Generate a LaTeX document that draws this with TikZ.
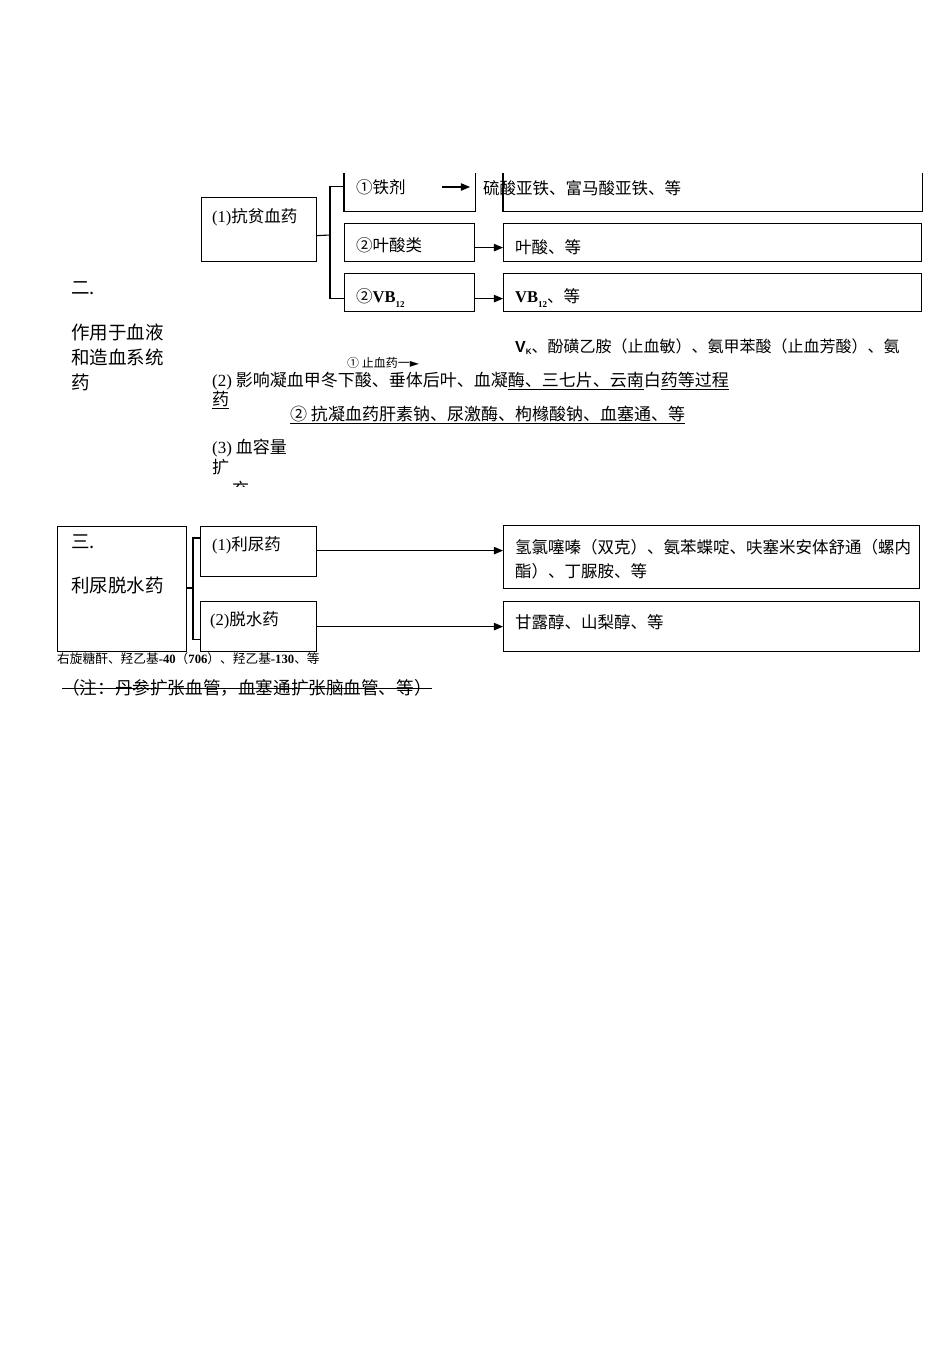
\documentclass[tikz,border=0pt]{standalone}
\usepackage{fontspec}
\setmainfont{Noto Sans CJK SC}
\newfontfamily\lat{Liberation Serif}
\newfontfamily\sans{Liberation Sans}
\newfontfamily\sym{DejaVu Sans}
\usepackage{tikz}
\usetikzlibrary{arrows}
\usetikzlibrary{positioning}
\tikzstyle{box} = [draw, line width=1.2pt, inner sep=0pt, anchor=north west]
\tikzstyle{openbox} = [box, draw=none]
\tikzstyle{txt} = [inner sep=0pt, anchor=west, font={\fontsize{16.5}{24}\selectfont}]
\tikzstyle{wide} = [txt, font={\fontsize{17}{24}\selectfont}]
\tikzstyle{head} = [txt, font={\fontsize{18.5}{25}\selectfont}]
\tikzstyle{small} = [txt, font={\fontsize{12}{14}\selectfont}]
\tikzstyle{link} = [line width=1.1pt]
\tikzstyle{arr} = [link, -triangle 45]
\newcommand{\vbtwelve}{{\lat\bfseries VB\raisebox{-5pt}{\fontsize{9}{9}\selectfont 12}}}

\begin{document}
\begin{tikzpicture}[x=1pt, y=-1pt]
            \useasboundingbox (0,0) rectangle (950,1345);
            % section two: boxes
            \node [box, minimum width=115pt, minimum height=64pt] (anemia) at (201,197) {};
            \node [openbox, minimum width=130pt, minimum height=37pt] (iron) at (344,173) {};
            \node [box, minimum width=130pt, minimum height=38pt] (folic) at (344,223) {};
            \node [box, minimum width=130pt, minimum height=38pt] (vb) at (344,273) {};
            \node [openbox, minimum width=418pt, minimum height=37pt] (ironR) at (503,173) {};
            \node [box, minimum width=418pt, minimum height=38pt] (folicR) at (503,223) {};
            \node [box, minimum width=418pt, minimum height=38pt] (vbR) at (503,273) {};
            \draw [line width=1.2pt] (iron.north west) -- (iron.south west) -- (iron.south east) -- (iron.north east);
            \draw [line width=1.2pt] (ironR.north west) -- (ironR.south west) -- (ironR.south east) -- (ironR.north east);
            \coordinate (fork1) at (330,235);
            \coordinate (ironTail) at (442,187);
            \coordinate (ironHead) at (470,187);
            \draw [link] ([yshift=-6pt]anemia.east) -- (fork1);
            \draw [link] ([yshift=5.5pt]iron.west) -| (fork1) |- ([yshift=-6pt]vb.west);
            \draw [arr] (ironTail) -- (ironHead);
            \draw [arr] ([yshift=-5pt]folic.east) -- ([yshift=-5pt]folicR.west);
            \draw [arr] ([yshift=-6pt]vb.east) -- ([yshift=-6pt]vbR.west);
            % section two: texts
            \node [head] (sec2) at (71,288) {二.};
            \node [head, align=left] (sec2T) at (71,357) {作用于血液\\和造血系统\\药};
            \node [txt] (anemiaT) at (212,217) {{\lat(1)}抗贫血药};
            \node [txt] (ironT) at (356,187) {①铁剂};
            \node [txt] (folicT) at (356,245) {②叶酸类};
            \node [txt] (vbT) at (356,298) {②\vbtwelve};
            \node [txt] (ironRT) at (483,188) {硫酸亚铁、富马酸亚铁、等};
            \node [txt] (folicRT) at (515,247) {叶酸、等};
            \node [txt] (vbRT) at (515,298) {\vbtwelve、等};
            \node [txt, font={\fontsize{16}{20}\selectfont}] (vkT) at (515,347)
                {{\sans\bfseries V\raisebox{-2pt}{\fontsize{8}{8}\selectfont K}}、酚磺乙胺（止血敏）、氨甲苯酸（止血芳酸）、氨};
            \node [small] (stopT) at (347,363) {① 止血药一{\sym ►}};
            \node [wide] (effT) at (212,381)
                {{\lat(2)} 影响凝血甲冬下酸、垂体后叶、血凝\underline{酶、三七片、云南}白\underline{药等过程}};
            \node [wide] (effT2) at (212,400) {\underline{药}};
            \node [wide] (antiT) at (290,415) {\underline{② 抗凝血药肝素钠、尿激酶、枸橼酸钠、血塞通、等}};
            \node [wide] (volT) at (212,448) {{\lat(3)} 血容量};
            \node [wide] (volT2) at (212,467) {扩};
            \begin{scope}
                \clip (200,476) rectangle (260,486);
                \node [wide] (volT3) at (232,489) {充};
            \end{scope}
            % section three: boxes
            \node [box, minimum width=129pt, minimum height=125pt] (sec3) at (57,526) {};
            \node [box, minimum width=116pt, minimum height=50pt] (diur) at (200,526) {};
            \node [box, minimum width=116pt, minimum height=50pt] (dehyd) at (200,601) {};
            \node [box, minimum width=416pt, minimum height=63pt] (diurR) at (503,525) {};
            \node [box, minimum width=416pt, minimum height=50pt] (dehydR) at (503,601) {};
            \coordinate (fork2) at (193,588);
            \draw [link] (sec3.east |- fork2) -- (fork2);
            \draw [link] ([yshift=-12pt]diur.north west) -| (fork2) |- ([yshift=13pt]dehyd.south west);
            \draw [arr] ([yshift=1pt]diur.east) -- ([yshift=1pt]diur.east -| diurR.west);
            \draw [arr] (dehyd.east) -- (dehyd.east -| dehydR.west);
            % section three: texts
            \node [head] (sec3H) at (71,542) {三.};
            \node [head] (sec3T) at (71,585) {利尿脱水药};
            \node [txt] (diurT) at (212,545) {{\lat(1)}利尿药};
            \node [txt] (dehydT) at (210,620) {{\lat(2)}脱水药};
            \node [txt, align=left] (diurRT) at (515,559)
                {氢氯噻嗪（双克）、氨苯蝶啶、呋塞米安体舒通（螺内\\酯）、丁脲胺、等};
            \node [txt] (dehydRT) at (515,622) {甘露醇、山梨醇、等};
            \node [small, font={\fontsize{12.7}{14}\selectfont}] (dexT) at (57,659)
                {右旋糖酐、羟乙基{\lat\bfseries -40}（{\lat\bfseries 706}）、羟乙基{\lat\bfseries -130}、等};
            \node [txt, font={\fontsize{17.6}{24}\selectfont}] (noteT) at (62,688) {（注：丹参扩张血管，血塞通扩张脑血管、等）};
            \draw [line width=1pt] (noteT.west) -- (noteT.east);
\end{tikzpicture}
\end{document}
